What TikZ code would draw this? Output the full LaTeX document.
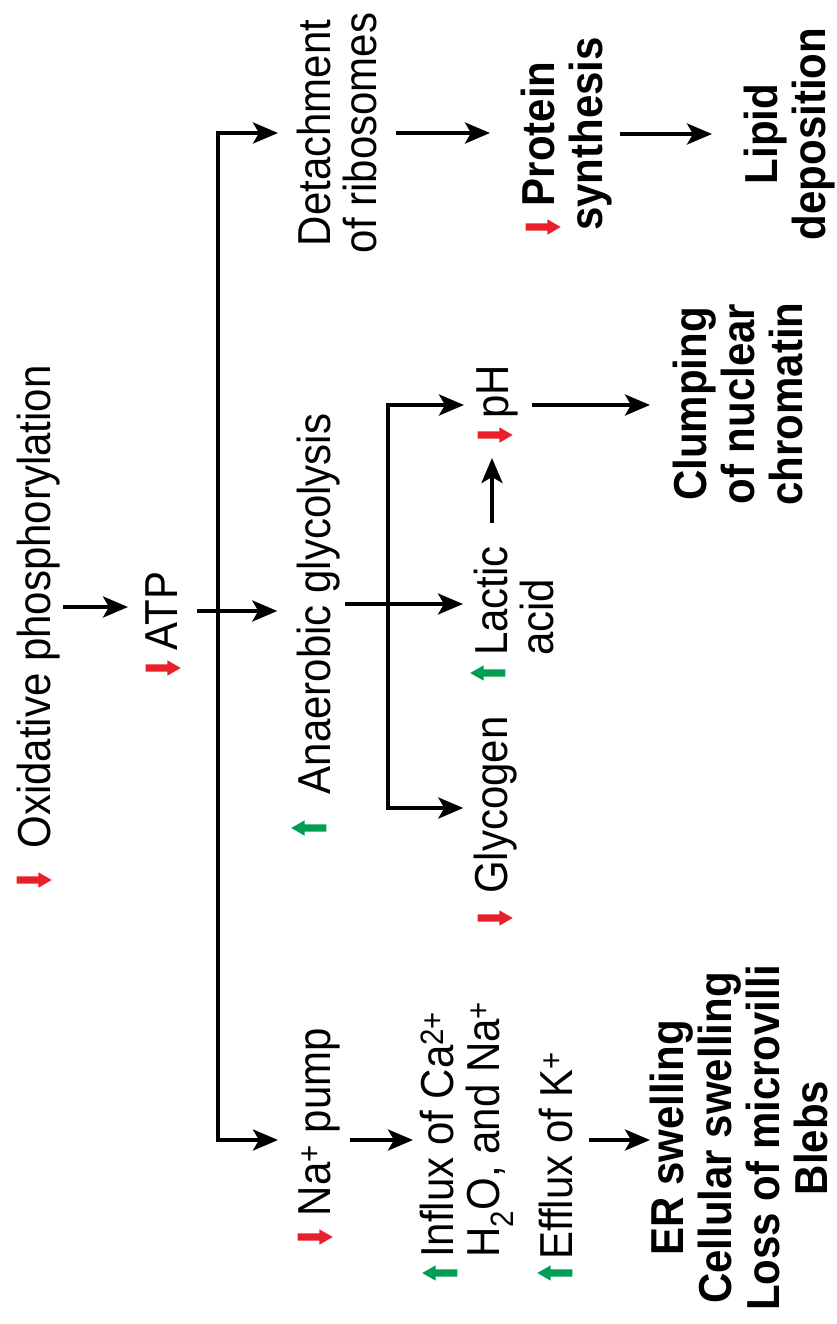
\documentclass[tikz,border=0pt]{standalone}
\usepackage{fontspec}
\setmainfont{Liberation Sans}
\usetikzlibrary{arrows.meta, shapes.arrows}
\definecolor{fallred}{RGB}{232,32,42}
\definecolor{risegreen}{RGB}{0,158,84}

\begin{document}
\begin{tikzpicture}
        [
            x=1pt, y=1pt,
            lbl/.style={rotate=90, yscale=1.1, inner sep=0pt,
                        font=\fontsize{42}{42}\selectfont},
            key/.style={lbl, font=\fontsize{42}{43.5}\selectfont\bfseries},
            fall/.style={single arrow, fill=fallred, inner xsep=0pt,
                         inner ysep=3.5pt, minimum height=35pt,
                         single arrow head extend=4pt,
                         single arrow tip angle=60},
            rise/.style={fall, fill=risegreen, shape border rotate=180},
            arr/.style={-{Stealth[length=25pt, width=21pt, inset=6pt]},
                        line width=3.8pt},
            both/.style={arr, {Stealth[length=25pt, width=21pt, inset=6pt]}-{Stealth[length=25pt, width=21pt, inset=6pt]}}
        ]
        \useasboundingbox (0,0) rectangle (837,-1324);
        \node (oxph) [lbl, anchor=base] at (50,-607) {Oxidative phosphorylation};
        \node (atp) [lbl, anchor=base] at (177,-611) {ATP};
        \node (anaer) [lbl, anchor=base] at (330,-604) {Anaerobic glycolysis};
        \node (napump) [lbl, anchor=base] at (330,-1122) {Na\textsuperscript{+} pump};
        \node (det) [lbl, anchor=north, align=center] at (297,-133)
              {Detachment\\of ribosomes};
        \node (lactic) [lbl, anchor=north west, align=left] at (474,-656)
              {Lactic\\acid};
        \node (ph) [lbl, anchor=base] at (508,-392) {pH};
        \node (glyc) [lbl, anchor=base] at (507,-805) {Glycogen};
        \node (influx) [lbl, anchor=north west, align=left] at (420,-1258)
              {Influx of Ca\textsuperscript{2+}\\H\textsubscript{2}O, and Na\textsuperscript{+}};
        \node (efflux) [lbl, anchor=base west] at (572,-1260) {Efflux of K\textsuperscript{+}};
        \node (prot) [key, anchor=north, align=center] at (521,-134) {Protein\\synthesis};
        \node (lipid) [key, anchor=north, align=center] at (744,-134) {Lipid\\deposition};
        \node (clump) [key, anchor=north, align=center] at (673,-404)
              {Clumping\\of nuclear\\chromatin};
        \node (er) [key, anchor=north, align=center] at (650,-1138)
              {ER swelling\\Cellular swelling\\Loss of microvilli\\Blebs};
        % red = decrease, green = increase
        \foreach \nm/\x/\y/\kind in {oxdn/31/-880/fall, atpdn/160/-668/fall,
                 anup/312/-828/rise, phdn/492/-435/fall, lacup/491/-673/rise,
                 glydn/492/-918/fall, protdn/540/-227/fall, nadn/312/-1237/fall,
                 infup/443/-1273/rise, effup/558/-1273/rise}
            \node (\nm) [\kind] at (\x,\y) {};
        \coordinate (hub) at (218,-1140);
        \coordinate (gtop) at (388,-405);
        \coordinate (gbot) at (388,-808);
        \draw [arr, shorten <=3pt, shorten >=17pt] (oxph.south) -- (oxph.south -| atp.north);
        \draw [arr, shorten <=20pt, shorten >=19pt] (atp.south) -- (atp.south -| anaer.north);
        \draw [both, shorten <=52pt, shorten >=19pt] (hub -| napump.base) -- (hub)
              -- (hub |- det.north) -- (det.north);
        \draw [arr, shorten <=5pt, shorten >=11pt] (anaer.south) -- (anaer.south -| lactic.north west);
        \draw [both, shorten <=12pt, shorten >=10pt] (gtop -| ph.north) -- (gtop)
              -- (gbot) -- (gbot -| glyc.north);
        \draw [arr, shorten <=23pt, shorten >=23pt] (lactic.east -| phdn.center) -- (phdn.center);
        \draw [arr, shorten <=14pt, shorten >=23pt] (gtop -| ph.south) -- (gtop -| clump.north);
        \draw [arr, shorten <=18pt, shorten >=31pt] (det.south) -- (det.south -| prot.north);
        \draw [arr, shorten <=8pt, shorten >=32pt] (prot.south) -- (prot.south -| lipid.north);
        \draw [arr, shorten <=10pt, shorten >=7pt] (hub -| napump.south) -- (hub -| influx.north west);
        \draw [arr, shorten <=16pt, shorten >=0pt] (hub -| efflux.south) -- (hub -| er.north);
    \end{tikzpicture}
\end{document}
